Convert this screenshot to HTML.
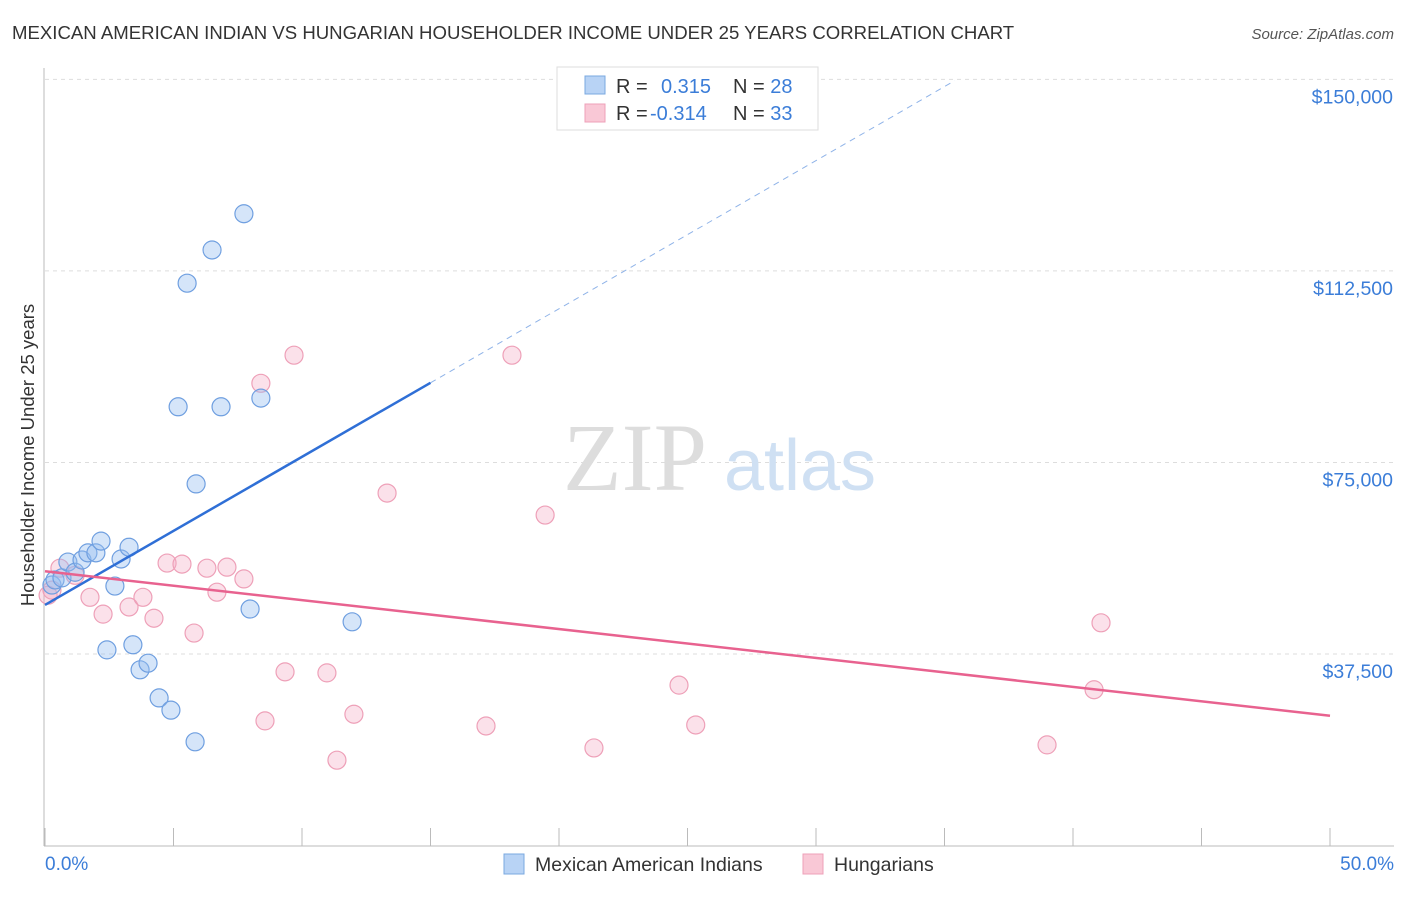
<!DOCTYPE html>
<html><head><meta charset="utf-8"><style>
body{margin:0;background:#fff;font-family:"Liberation Sans",sans-serif}
</style></head><body>
<svg width="1406" height="892" xmlns="http://www.w3.org/2000/svg">
<text x="12" y="39" font-size="18.6" fill="#333">MEXICAN AMERICAN INDIAN VS HUNGARIAN HOUSEHOLDER INCOME UNDER 25 YEARS CORRELATION CHART</text>
<text x="1394" y="39" font-size="15" fill="#555" font-style="italic" text-anchor="end">Source: ZipAtlas.com</text>
<g id="grid"></g>
<text x="635" y="490" font-size="96" fill="#ddd" font-family="Liberation Serif,serif" text-anchor="middle">ZIP</text>
<text x="800" y="490" font-size="72" fill="#cfe0f3" text-anchor="middle">atlas</text>
<g id="pts"></g>
<g id="lines"></g>
<text transform="translate(34,455) rotate(-90)" font-size="18.5" fill="#333" text-anchor="middle">Householder Income Under 25 years</text>
<text x="45" y="870" font-size="19" fill="#3b7dd8">0.0%</text>
<text x="1394" y="870" font-size="19" fill="#3b7dd8" text-anchor="end">50.0%</text>
<g>
<rect x="557" y="67" width="261" height="63" fill="#fff" stroke="#ddd"/>
<rect x="585" y="76" width="20" height="18" fill="#b8d3f5" stroke="#7aa8e0"/>
<rect x="585" y="104" width="20" height="18" fill="#f9c8d6" stroke="#eea0b8"/>
<text x="616" y="93" font-size="20" fill="#333">R = <tspan fill="#3b7dd8" x="661">0.315</tspan><tspan x="733">N = </tspan><tspan fill="#3b7dd8">28</tspan></text>
<text x="616" y="120" font-size="20" fill="#333">R = <tspan fill="#3b7dd8" x="650">-0.314</tspan><tspan x="733">N = </tspan><tspan fill="#3b7dd8">33</tspan></text>
</g>
<g>
<rect x="504" y="854" width="20" height="20" fill="#b8d3f5" stroke="#7aa8e0"/>
<text x="535" y="871" font-size="19.5" fill="#333">Mexican American Indians</text>
<rect x="803" y="854" width="20" height="20" fill="#f9c8d6" stroke="#eea0b8"/>
<text x="834" y="871" font-size="19.5" fill="#333">Hungarians</text>
</g>
</svg>
<script>
const yTicks=[37500,75000,112500,150000];
const yTickLabels=["$37,500","$75,000","$112,500","$150,000"];
const xTicks=[0,5,10,15,20,25,30,35,40,45,50];
const blueX=[0.27,0.39,0.66,0.89,1.17,1.44,1.67,1.98,2.18,2.41,2.72,2.96,3.27,3.42,3.70,4.01,4.44,4.90,5.18,5.53,5.88,5.84,6.50,6.85,7.74,7.98,8.40,11.95];
const blueY=[51000,52000,52400,55500,53500,55900,57300,57300,59600,38300,50800,56100,58400,39300,34400,35700,28900,26500,85900,110100,70800,20300,116600,85900,123700,46300,87600,43800];
const pinkX=[0.12,0.27,0.58,1.17,1.75,2.26,3.27,3.81,4.24,4.75,5.33,5.80,6.30,6.69,7.08,7.74,8.40,8.56,9.34,9.69,10.97,11.36,12.02,13.31,17.16,18.17,19.46,21.36,24.67,25.32,38.99,40.82,41.09];
const pinkY=[49000,50000,54300,52900,48600,45300,46700,48600,44500,55300,55100,41600,54300,49600,54500,52200,90500,24400,34000,96000,33800,16700,25700,69000,23400,96000,64700,19100,31400,23600,19700,30500,43600];
const blueLine=[47100,2900];
const pinkLine=[53700,-566];
const NS="http://www.w3.org/2000/svg";
const X=v=>45+v*25.7, Y=v=>845.5-v/195.8;
function mk(t,a,p){const e=document.createElementNS(NS,t);for(const k in a)e.setAttribute(k,a[k]);p.appendChild(e);return e;}
const g=document.getElementById('grid');
yTicks.forEach((v,i)=>{
 const l=mk('line',{x1:45,x2:1394,y1:Y(v),y2:Y(v),stroke:'#ddd','stroke-dasharray':'4,4'},g);
 
 
 const t=mk('text',{x:1393,y:Y(v)+24,'font-size':19.5,fill:'#3b7dd8','text-anchor':'end'},g);t.textContent=yTickLabels[i];
 
 
});
mk('line',{x1:44,x2:44,y1:68,y2:846,stroke:'#bbb'},g);
mk('line',{x1:44,x2:1394,y1:846,y2:846,stroke:'#bbb'},g);
xTicks.forEach(v=>{const l=mk('line',{x1:X(v),x2:X(v),y1:828,y2:846,stroke:'#bbb'},g);
 
 });
const p=document.getElementById('pts');
pinkX.forEach((x,i)=>{const c=mk('circle',{cx:X(x),cy:Y(pinkY[i]),r:9,fill:'rgba(244,170,195,0.35)',stroke:'#eea0b8','stroke-width':1.2},p);
 
 });
blueX.forEach((x,i)=>{const c=mk('circle',{cx:X(x),cy:Y(blueY[i]),r:9,fill:'rgba(150,190,240,0.4)',stroke:'#6f9fe0','stroke-width':1.2},p);
 
 });
const L=document.getElementById('lines');
const bl=x=>blueLine[0]+blueLine[1]*x, pl=x=>pinkLine[0]+pinkLine[1]*x;
let e=mk('line',{x1:X(0),y1:Y(bl(0)),x2:X(15),y2:Y(bl(15)),stroke:'#2f6fd6','stroke-width':2.5},L);


e=mk('line',{x1:X(15),y1:Y(bl(15)),x2:X(35.4),y2:Y(bl(35.4)),stroke:'#8fb3e8','stroke-width':1,'stroke-dasharray':'6,5'},L);


e=mk('line',{x1:X(0),y1:Y(pl(0)),x2:X(50),y2:Y(pl(50)),stroke:'#e8628f','stroke-width':2.5},L);


</script>
</body></html>
